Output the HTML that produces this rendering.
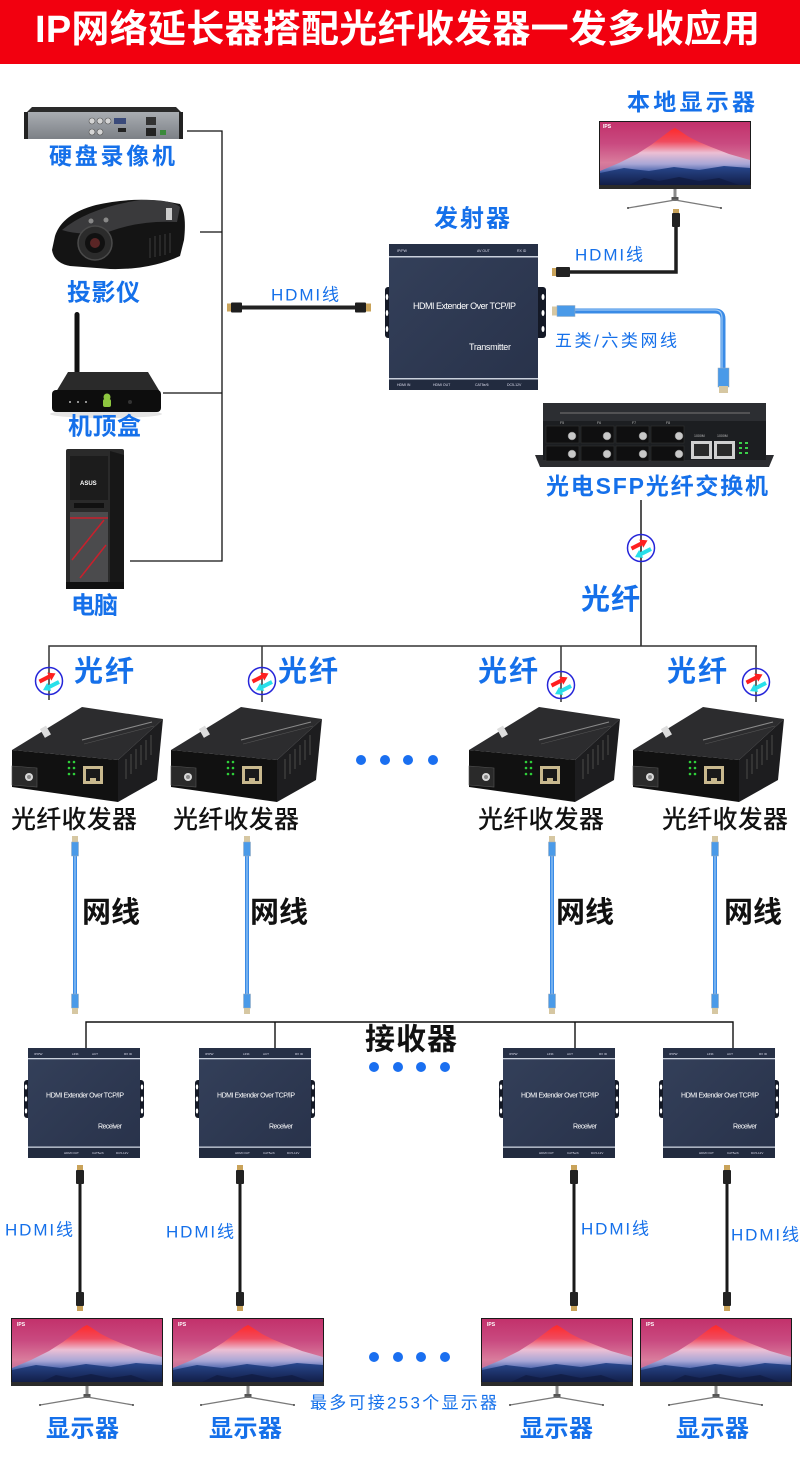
<!DOCTYPE html>
<html><head><meta charset="utf-8"><style>
html,body{margin:0;padding:0;background:#fff;}
svg{display:block;}
text{font-family:"Liberation Sans","Noto Sans CJK SC",sans-serif;}
</style></head><body>
<svg width="800" height="1462" viewBox="0 0 800 1462" xmlns="http://www.w3.org/2000/svg">
<defs>
 <linearGradient id="sky" x1="0" y1="0" x2="0" y2="64" gradientUnits="userSpaceOnUse">
  <stop offset="0" stop-color="#c2306a"/><stop offset="0.35" stop-color="#c94a80"/><stop offset="0.65" stop-color="#d97c9c"/><stop offset="1" stop-color="#a85a92"/>
 </linearGradient>
 <linearGradient id="mtn" x1="0" y1="7" x2="0" y2="52" gradientUnits="userSpaceOnUse">
  <stop offset="0" stop-color="#ff2a2a"/><stop offset="0.3" stop-color="#f04a5e"/><stop offset="0.55" stop-color="#ecbfd4"/><stop offset="0.8" stop-color="#a8a6d6"/><stop offset="1" stop-color="#3d5ba6"/>
 </linearGradient>
 <linearGradient id="hill" x1="0" y1="44" x2="0" y2="64" gradientUnits="userSpaceOnUse">
  <stop offset="0" stop-color="#2a4a92"/><stop offset="1" stop-color="#121e48"/>
 </linearGradient>
 <linearGradient id="tx" x1="0" y1="0" x2="1" y2="1">
  <stop offset="0" stop-color="#34405a"/><stop offset="1" stop-color="#28324a"/>
 </linearGradient>
 <linearGradient id="dvr" x1="0" y1="0" x2="0" y2="1">
  <stop offset="0" stop-color="#a9adb2"/><stop offset="1" stop-color="#7c8086"/>
 </linearGradient>
 <g id="mon">
  <rect x="0" y="0" width="152" height="68" fill="#1a1a1a"/>
  <rect x="1" y="1" width="150" height="63" fill="url(#sky)"/>
  <polygon points="1,50 20,42 38,33 52,24 64,15 72,9 76,7 81,10 90,16 100,21 112,26 130,33 151,39 151,64 1,64" fill="url(#mtn)"/>
  <polygon points="1,52 25,47 50,50 75,46 100,49 125,45 151,47 151,64 1,64" fill="url(#hill)"/>
  <polygon points="30,64 45,57 60,60 80,56 100,60 120,57 140,64" fill="#0f1a3e" opacity="0.7"/>
  <rect x="0" y="64" width="152" height="4" fill="#2b2b2b"/>
  <rect x="74.5" y="68" width="3" height="11" fill="#8a8a8a"/>
  <rect x="72.5" y="76" width="7" height="4" fill="#555"/>
  <path d="M76,79 L29,87 M76,79 L122,87" stroke="#7a7a7a" stroke-width="1.3" fill="none"/>
  <circle cx="29" cy="87" r="1" fill="#444"/><circle cx="122" cy="87" r="1" fill="#444"/>
 </g>
 <g id="conv">
  <polygon points="0,43 70,0 151,12 106,53" fill="#2c2c2e"/>
  <polygon points="0,43 106,53 106,95 0,80" fill="#111"/>
  <polygon points="106,53 151,12 145,73 106,95" fill="#1d1d1f"/>
  <g stroke="#444" stroke-width="1.2">
   <line x1="114" y1="52" x2="114" y2="72"/><line x1="119" y1="47" x2="119" y2="67"/><line x1="124" y1="42" x2="124" y2="62"/><line x1="129" y1="38" x2="129" y2="58"/><line x1="134" y1="33" x2="134" y2="53"/><line x1="139" y1="28" x2="139" y2="48"/>
  </g>
  <line x1="70" y1="33" x2="140" y2="15" stroke="#8a8a8a" stroke-width="1"/>
  <line x1="72" y1="37" x2="142" y2="19" stroke="#555" stroke-width="0.6"/>
  <rect x="30" y="20" width="7" height="10" fill="#ddd" transform="rotate(-30 33 25)"/>
  <polygon points="0,59 25,61 25,80 0,78" fill="#2a2a2a" stroke="#555" stroke-width="0.6"/>
  <circle cx="17" cy="70" r="4" fill="#d8d8d8"/><circle cx="17" cy="70" r="2" fill="#888"/>
  <g fill="#2fcf3a"><circle cx="57" cy="55" r="1.3"/><circle cx="62" cy="55" r="1.3"/><circle cx="57" cy="61" r="1.3"/><circle cx="62" cy="61" r="1.3"/><circle cx="57" cy="67" r="1.3"/><circle cx="62" cy="67" r="1.3"/></g>
  <rect x="71" y="59" width="20" height="18" fill="#c9b98e"/>
  <rect x="74" y="62" width="14" height="12" fill="#1a1a1a"/>
  <rect x="78" y="71" width="6" height="3" fill="#c9b98e"/>
 </g>
 <g id="rxb">
  <rect x="-4" y="32" width="120" height="38" rx="3" fill="#141926"/>
  <g fill="#fff"><ellipse cx="-2" cy="39" rx="1.2" ry="2.5"/><ellipse cx="-2" cy="51" rx="1.2" ry="2.5"/><ellipse cx="-2" cy="63" rx="1.2" ry="2.5"/><ellipse cx="114" cy="39" rx="1.2" ry="2.5"/><ellipse cx="114" cy="51" rx="1.2" ry="2.5"/><ellipse cx="114" cy="63" rx="1.2" ry="2.5"/></g>
  <rect x="0" y="0" width="112" height="110" fill="url(#tx)"/>
  <rect x="0" y="0" width="112" height="10" fill="#263046"/>
  <rect x="0" y="10" width="112" height="1.3" fill="#c9d0dc"/>
  <rect x="0" y="98.5" width="112" height="1.3" fill="#c9d0dc"/>
  <rect x="0" y="100" width="112" height="10" fill="#222b3f"/>
 </g>
 <g id="fib">
  <circle r="13.5" fill="none" stroke="#2626d9" stroke-width="1.5"/>
  <g transform="translate(-1.5,-3.5) rotate(-27)"><rect x="-9" y="-2" width="11" height="4" fill="#ff1f1f"/><polygon points="2,-4.5 9,0 2,4.5" fill="#ff1f1f"/></g>
  <g transform="translate(2,5) rotate(-27)"><rect x="-2" y="-2" width="11" height="4" fill="#28e0ea"/><polygon points="-2,-4.5 -9,0 -2,4.5" fill="#28e0ea"/></g>
 </g>
 <g id="net">
  <rect x="-2" y="855" width="4" height="140" fill="#3a8be6"/>
  <rect x="-0.6" y="855" width="1.2" height="140" fill="#9cc8f5"/>
  <rect x="-3" y="836" width="6" height="6" fill="#d6c7a2"/>
  <rect x="-3.5" y="842" width="7" height="14" fill="#4a9ae8" stroke="#9ab" stroke-width="0.5"/>
  <rect x="-3.5" y="994" width="7" height="14" fill="#4a9ae8" stroke="#9ab" stroke-width="0.5"/>
  <rect x="-3" y="1008" width="6" height="6" fill="#d6c7a2"/>
 </g>
 <g id="hd">
  <rect x="-1.5" y="1183" width="3" height="110" fill="#1a1a1a"/>
  <rect x="-3" y="1165" width="6" height="5" fill="#c9a35a"/>
  <rect x="-4" y="1170" width="8" height="14" rx="1" fill="#222"/>
  <rect x="-4" y="1292" width="8" height="14" rx="1" fill="#222"/>
  <rect x="-3" y="1306" width="6" height="5" fill="#c9a35a"/>
 </g>
</defs>

<!-- header -->
<rect x="0" y="0" width="800" height="64" fill="#f2000f"/>
<text x="35" y="30" font-size="38" font-weight="bold" fill="#fff" dominant-baseline="central" textLength="725" lengthAdjust="spacing">IP网络延长器搭配光纤收发器一发多收应用</text>

<!-- device bus -->
<g stroke="#111" stroke-width="1.3" fill="none">
 <path d="M187,131 H222 M200,232 H222 M163,393 H222 M130,561 H222 M222,130.4 V561.6"/>
</g>

<!-- DVR -->
<polygon points="26,113 32,107 176,107 182,113" fill="#2a2a2a"/>
<rect x="24" y="112" width="159" height="27" fill="url(#dvr)"/>
<rect x="24" y="112" width="4" height="27" fill="#222"/>
<rect x="179" y="112" width="4" height="27" fill="#222"/>
<g fill="#d5d5d5" stroke="#555" stroke-width="0.6"><circle cx="92" cy="121" r="3"/><circle cx="100" cy="121" r="3"/><circle cx="108" cy="121" r="3"/><circle cx="92" cy="132" r="3"/><circle cx="100" cy="132" r="3"/></g>
<rect x="114" y="118" width="12" height="6" fill="#3a4a7a"/>
<rect x="118" y="128" width="8" height="4" fill="#222"/>
<rect x="146" y="117" width="10" height="8" fill="#333"/>
<rect x="146" y="128" width="10" height="8" fill="#222"/>
<rect x="160" y="130" width="6" height="5" fill="#3a8a3a"/>

<!-- projector -->
<path d="M55,236 Q62,214 96,205 Q140,195 180,204 Q187,214 184,240 L180,256 Q150,270 110,269 L70,266 Q54,263 52,250 Z" fill="#141414"/>
<path d="M62,230 Q88,208 140,200 Q170,199 180,207 L177,222 Q140,220 108,232 Q80,236 62,230 Z" fill="#3a3a3c"/>
<circle cx="95" cy="243" r="17" fill="#2b2b2b" stroke="#4a4a4a" stroke-width="1.5"/>
<circle cx="95" cy="243" r="10" fill="#111"/>
<circle cx="95" cy="243" r="5" fill="#5a2525"/>
<circle cx="91" cy="221" r="2.5" fill="#888"/><circle cx="106" cy="220" r="2.5" fill="#888"/>
<g stroke="#333" stroke-width="1.3"><line x1="150" y1="238" x2="150" y2="258"/><line x1="155" y1="236" x2="155" y2="257"/><line x1="160" y1="235" x2="160" y2="256"/><line x1="165" y1="234" x2="165" y2="255"/><line x1="170" y1="233" x2="170" y2="253"/></g>
<rect x="166" y="208" width="6" height="12" fill="#ccc"/>

<!-- set top box -->
<rect x="74.5" y="312" width="5" height="62" rx="2.5" fill="#111"/>
<ellipse cx="106" cy="414" rx="56" ry="4" fill="#e4e4e4"/>
<polygon points="56,392 68,372 148,372 160,392" fill="#2a2a2a"/>
<rect x="52" y="390" width="109" height="22" rx="4" fill="#0d0d0d"/>
<g fill="#eee"><circle cx="70" cy="402" r="0.9"/><circle cx="78" cy="402" r="0.9"/><circle cx="86" cy="402" r="0.9"/></g>
<rect x="103" y="399" width="8" height="8" rx="2" fill="#8dc63f"/>
<circle cx="107" cy="397" r="3.5" fill="#8dc63f"/>
<circle cx="130" cy="402" r="2" fill="#333"/>

<!-- PC tower -->
<rect x="66" y="449" width="58" height="139" rx="2" fill="#2a2a2a"/>
<polygon points="110,451 124,455 124,586 110,588" fill="#171717"/>
<rect x="70" y="456" width="38" height="44" fill="#1c1c1c"/>
<text x="80" y="485" font-size="6" font-weight="bold" fill="#fff">ASUS</text>
<rect x="74" y="503" width="30" height="5" fill="#111"/>
<rect x="70" y="512" width="38" height="70" fill="#4b4b4d"/>
<g stroke="#c8202c" stroke-width="1.5" fill="none"><path d="M72,560 L104,520"/><path d="M80,578 L106,545"/><path d="M70,518 H108"/></g>
<rect x="66" y="582" width="58" height="7" fill="#111"/>

<!-- left labels -->
<g font-weight="bold" fill="#1570ea" dominant-baseline="central">
 <text x="49" y="156" font-size="23" textLength="126" lengthAdjust="spacing">硬盘录像机</text>
 <text x="67" y="293" font-size="24" textLength="73" lengthAdjust="spacing">投影仪</text>
 <text x="68" y="427" font-size="24" textLength="73" lengthAdjust="spacing">机顶盒</text>
 <text x="71" y="606" font-size="24" textLength="47" lengthAdjust="spacing">电脑</text>
 <text x="627" y="102" font-size="23" textLength="128" lengthAdjust="spacing">本地显示器</text>
 <text x="434" y="219" font-size="24" textLength="76" lengthAdjust="spacing">发射器</text>
 <text x="546" y="486" font-size="23" textLength="222" lengthAdjust="spacing">光电SFP光纤交换机</text>
 <text x="581" y="600" font-size="29" textLength="59" lengthAdjust="spacing">光纤</text>
 <text x="74" y="672" font-size="29" textLength="60" lengthAdjust="spacing">光纤</text>
 <text x="278" y="672" font-size="29" textLength="60" lengthAdjust="spacing">光纤</text>
 <text x="478" y="672" font-size="29" textLength="60" lengthAdjust="spacing">光纤</text>
 <text x="667" y="672" font-size="29" textLength="60" lengthAdjust="spacing">光纤</text>
 <text x="46" y="1429" font-size="24" textLength="73" lengthAdjust="spacing">显示器</text>
 <text x="209" y="1429" font-size="24" textLength="73" lengthAdjust="spacing">显示器</text>
 <text x="520" y="1429" font-size="24" textLength="73" lengthAdjust="spacing">显示器</text>
 <text x="676" y="1429" font-size="24" textLength="73" lengthAdjust="spacing">显示器</text>
</g>
<g fill="#1570ea" dominant-baseline="central" font-size="17">
 <text x="271" y="295" textLength="68" lengthAdjust="spacing">HDMI线</text>
 <text x="575" y="255" textLength="68" lengthAdjust="spacing">HDMI线</text>
 <text x="555" y="341" textLength="122" lengthAdjust="spacing">五类/六类网线</text>
 <text x="5" y="1230" textLength="68" lengthAdjust="spacing">HDMI线</text>
 <text x="166" y="1232" textLength="68" lengthAdjust="spacing">HDMI线</text>
 <text x="581" y="1229" textLength="68" lengthAdjust="spacing">HDMI线</text>
 <text x="731" y="1235" textLength="68" lengthAdjust="spacing">HDMI线</text>
 <text x="310" y="1403" textLength="187" lengthAdjust="spacing">最多可接253个显示器</text>
</g>

<!-- HDMI cable into transmitter -->
<rect x="240" y="305.5" width="116" height="4" fill="#222"/>
<rect x="227" y="303.5" width="5" height="8" fill="#c9a35a"/>
<rect x="231" y="302.5" width="11" height="10" rx="1" fill="#1e1e1e"/>
<rect x="355" y="302.5" width="11" height="10" rx="1" fill="#1e1e1e"/>
<rect x="366" y="303.5" width="5" height="8" fill="#c9a35a"/>

<!-- local monitor + HDMI -->
<use href="#mon" x="599" y="121"/>
<text x="603" y="128" font-size="5" font-weight="bold" fill="#fff">IPS</text>
<path d="M676,226 V272 H569" stroke="#1e1e1e" stroke-width="3.5" fill="none"/>
<rect x="673" y="209" width="6" height="5" fill="#c9a35a"/>
<rect x="672" y="213" width="8" height="14" rx="1" fill="#222"/>
<rect x="552" y="268" width="5" height="8" fill="#c9a35a"/>
<rect x="556" y="267" width="14" height="10" rx="1" fill="#222"/>

<!-- blue network cable -->
<path d="M574,311 H715 Q723,311 723,319 V370" stroke="#3a8be6" stroke-width="5" fill="none"/>
<path d="M574,310 H715 Q722,310 722,318 V370" stroke="#9cc8f5" stroke-width="1.2" fill="none"/>
<rect x="552" y="306.5" width="6" height="9" fill="#d6c7a2"/>
<rect x="557" y="305.5" width="18" height="11" fill="#4a9ae8" stroke="#9ab" stroke-width="0.5"/>
<rect x="718" y="368" width="11" height="19" fill="#4a9ae8" stroke="#9ab" stroke-width="0.5"/>
<rect x="719" y="386" width="9" height="7" fill="#d6c7a2"/>

<!-- transmitter -->
<g transform="translate(389,244)">
 <rect x="-4" y="43" width="161" height="51" rx="3" fill="#141926"/>
 <g fill="#fff"><ellipse cx="-2" cy="53" rx="1.3" ry="3"/><ellipse cx="-2" cy="69" rx="1.3" ry="3"/><ellipse cx="-2" cy="85" rx="1.3" ry="3"/><ellipse cx="154" cy="53" rx="1.5" ry="3"/><ellipse cx="154" cy="69" rx="1.5" ry="3"/><ellipse cx="154" cy="85" rx="1.5" ry="3"/></g>
 <rect x="0" y="0" width="149" height="146" fill="url(#tx)"/>
 <rect x="0" y="0" width="149" height="12" fill="#263046"/>
 <rect x="0" y="12" width="149" height="1.5" fill="#c9d0dc"/>
 <rect x="0" y="134" width="149" height="1.5" fill="#c9d0dc"/>
 <rect x="0" y="135.5" width="149" height="10.5" fill="#222b3f"/>
 <g font-size="3.5" fill="#dde"><text x="8" y="8">IP/PW</text><text x="88" y="8">AV OUT</text><text x="128" y="8">RX ID</text>
 <text x="8" y="142">HDMI IN</text><text x="44" y="142">HDMI OUT</text><text x="86" y="142">CAT5e/6</text><text x="118" y="142">DC5-12V</text></g>
 <text x="24" y="62" font-size="9" fill="#fff" dominant-baseline="central" textLength="103" lengthAdjust="spacing">HDMI Extender Over TCP/IP</text>
 <text x="80" y="103" font-size="9" fill="#fff" dominant-baseline="central" textLength="42" lengthAdjust="spacing">Transmitter</text>
</g>

<!-- switch -->
<polygon points="535,455 774,455 769,467 540,467" fill="#2b2c2f"/>
<rect x="543" y="403" width="223" height="57" fill="#1c1e21"/>
<rect x="543" y="403" width="223" height="18" fill="#2c2e32"/>
<line x1="560" y1="413" x2="750" y2="413" stroke="#777" stroke-width="1"/>
<g fill="#0f0f10" stroke="#333" stroke-width="0.6">
 <rect x="546" y="426" width="33" height="17"/><rect x="581" y="426" width="33" height="17"/><rect x="616" y="426" width="33" height="17"/><rect x="651" y="426" width="33" height="17"/>
 <rect x="546" y="446" width="33" height="15"/><rect x="581" y="446" width="33" height="15"/><rect x="616" y="446" width="33" height="15"/><rect x="651" y="446" width="33" height="15"/>
</g>
<g fill="#c8c8c8" stroke="#666" stroke-width="0.5">
 <circle cx="572" cy="436" r="4"/><circle cx="607" cy="436" r="4"/><circle cx="643" cy="436" r="4"/><circle cx="679" cy="436" r="4"/>
 <circle cx="572" cy="454" r="4"/><circle cx="607" cy="454" r="4"/><circle cx="643" cy="454" r="4"/><circle cx="679" cy="454" r="4"/>
</g>
<g font-size="3.5" fill="#bbb"><text x="560" y="424">F5</text><text x="597" y="424">F6</text><text x="632" y="424">F7</text><text x="666" y="424">F8</text><text x="694" y="437">1000M</text><text x="717" y="437">1000M</text></g>
<rect x="691" y="441" width="21" height="18" fill="#d0d0d0"/><rect x="694" y="444" width="15" height="12" fill="#2a2a2a"/>
<rect x="714" y="441" width="21" height="18" fill="#d0d0d0"/><rect x="717" y="444" width="15" height="12" fill="#2a2a2a"/>
<g fill="#3ccf4a"><rect x="739" y="442" width="3" height="2"/><rect x="745" y="442" width="3" height="2"/><rect x="739" y="447" width="3" height="2"/><rect x="745" y="447" width="3" height="2"/><rect x="739" y="452" width="3" height="2"/><rect x="745" y="452" width="3" height="2"/></g>

<!-- fiber trunk -->
<line x1="641" y1="500" x2="641" y2="646" stroke="#555" stroke-width="2"/>
<use href="#fib" x="641" y="548"/>
<g stroke="#333" stroke-width="1.5" fill="none">
 <path d="M49,646 H757 M49,645.3 V700 M262,645.3 V702 M561,645.3 V702 M756,645.3 V702"/>
</g>
<use href="#fib" x="49" y="681"/>
<use href="#fib" x="262" y="681"/>
<use href="#fib" x="561" y="685"/>
<use href="#fib" x="756" y="682"/>

<!-- converters -->
<use href="#conv" x="12" y="707"/>
<use href="#conv" x="171" y="707"/>
<use href="#conv" x="469" y="707"/>
<use href="#conv" x="633" y="707"/>
<g fill="#1a6ff0"><circle cx="361" cy="760" r="5"/><circle cx="385" cy="760" r="5"/><circle cx="408" cy="760" r="5"/><circle cx="433" cy="760" r="5"/></g>
<g fill="#111" dominant-baseline="central" font-size="25" font-weight="500">
 <text x="11" y="820" textLength="126" lengthAdjust="spacing">光纤收发器</text>
 <text x="173" y="820" textLength="126" lengthAdjust="spacing">光纤收发器</text>
 <text x="478" y="820" textLength="126" lengthAdjust="spacing">光纤收发器</text>
 <text x="662" y="820" textLength="126" lengthAdjust="spacing">光纤收发器</text>
</g>

<!-- network cables -->
<use href="#net" x="75" y="0"/>
<use href="#net" x="247" y="0"/>
<use href="#net" x="552" y="0"/>
<use href="#net" x="715" y="0"/>
<g fill="#111" dominant-baseline="central" font-size="29" font-weight="bold">
 <text x="82" y="913" textLength="58" lengthAdjust="spacing">网线</text>
 <text x="250" y="913" textLength="58" lengthAdjust="spacing">网线</text>
 <text x="556" y="913" textLength="58" lengthAdjust="spacing">网线</text>
 <text x="724" y="913" textLength="58" lengthAdjust="spacing">网线</text>
 <text x="365" y="1040" font-size="30" textLength="92" lengthAdjust="spacing">接收器</text>
</g>

<!-- receiver bus -->
<g stroke="#111" stroke-width="1.4" fill="none">
 <path d="M86,1022 H733 M86,1021.3 V1048 M275,1021.3 V1048 M575,1021.3 V1048 M733,1021.3 V1048"/>
</g>
<g fill="#1a6ff0"><circle cx="374" cy="1067" r="5"/><circle cx="398" cy="1067" r="5"/><circle cx="421" cy="1067" r="5"/><circle cx="445" cy="1067" r="5"/></g>

<!-- receivers -->
<g transform="translate(28,1048)">
 <use href="#rxb"/>
 <g font-size="3" fill="#dde"><text x="6" y="7">IP/PW</text><text x="44" y="7">LINK</text><text x="64" y="7">ACT</text><text x="96" y="7">RX ID</text><text x="36" y="106">HDMI OUT</text><text x="64" y="106">CAT5e/6</text><text x="88" y="106">DC5-12V</text></g>
 <text x="18" y="48" font-size="7" fill="#fff" dominant-baseline="central" textLength="78" lengthAdjust="spacing">HDMI Extender Over TCP/IP</text>
 <text x="70" y="79" font-size="7" fill="#fff" dominant-baseline="central" textLength="24" lengthAdjust="spacing">Receiver</text>
</g>
<g transform="translate(199,1048)">
 <use href="#rxb"/>
 <g font-size="3" fill="#dde"><text x="6" y="7">IP/PW</text><text x="44" y="7">LINK</text><text x="64" y="7">ACT</text><text x="96" y="7">RX ID</text><text x="36" y="106">HDMI OUT</text><text x="64" y="106">CAT5e/6</text><text x="88" y="106">DC5-12V</text></g>
 <text x="18" y="48" font-size="7" fill="#fff" dominant-baseline="central" textLength="78" lengthAdjust="spacing">HDMI Extender Over TCP/IP</text>
 <text x="70" y="79" font-size="7" fill="#fff" dominant-baseline="central" textLength="24" lengthAdjust="spacing">Receiver</text>
</g>
<g transform="translate(503,1048)">
 <use href="#rxb"/>
 <g font-size="3" fill="#dde"><text x="6" y="7">IP/PW</text><text x="44" y="7">LINK</text><text x="64" y="7">ACT</text><text x="96" y="7">RX ID</text><text x="36" y="106">HDMI OUT</text><text x="64" y="106">CAT5e/6</text><text x="88" y="106">DC5-12V</text></g>
 <text x="18" y="48" font-size="7" fill="#fff" dominant-baseline="central" textLength="78" lengthAdjust="spacing">HDMI Extender Over TCP/IP</text>
 <text x="70" y="79" font-size="7" fill="#fff" dominant-baseline="central" textLength="24" lengthAdjust="spacing">Receiver</text>
</g>
<g transform="translate(663,1048)">
 <use href="#rxb"/>
 <g font-size="3" fill="#dde"><text x="6" y="7">IP/PW</text><text x="44" y="7">LINK</text><text x="64" y="7">ACT</text><text x="96" y="7">RX ID</text><text x="36" y="106">HDMI OUT</text><text x="64" y="106">CAT5e/6</text><text x="88" y="106">DC5-12V</text></g>
 <text x="18" y="48" font-size="7" fill="#fff" dominant-baseline="central" textLength="78" lengthAdjust="spacing">HDMI Extender Over TCP/IP</text>
 <text x="70" y="79" font-size="7" fill="#fff" dominant-baseline="central" textLength="24" lengthAdjust="spacing">Receiver</text>
</g>

<!-- HDMI cables to monitors -->
<use href="#hd" x="80" y="0"/>
<use href="#hd" x="240" y="0"/>
<use href="#hd" x="574" y="0"/>
<use href="#hd" x="727" y="0"/>

<!-- monitors -->
<use href="#mon" x="11" y="1318"/>
<use href="#mon" x="172" y="1318"/>
<use href="#mon" x="481" y="1318"/>
<use href="#mon" x="640" y="1318"/>
<g font-size="5" font-weight="bold" fill="#fff">
 <text x="17" y="1326">IPS</text><text x="178" y="1326">IPS</text><text x="487" y="1326">IPS</text><text x="646" y="1326">IPS</text>
</g>
<g fill="#1a6ff0"><circle cx="374" cy="1357" r="5"/><circle cx="398" cy="1357" r="5"/><circle cx="421" cy="1357" r="5"/><circle cx="445" cy="1357" r="5"/></g>
</svg>
</body></html>
